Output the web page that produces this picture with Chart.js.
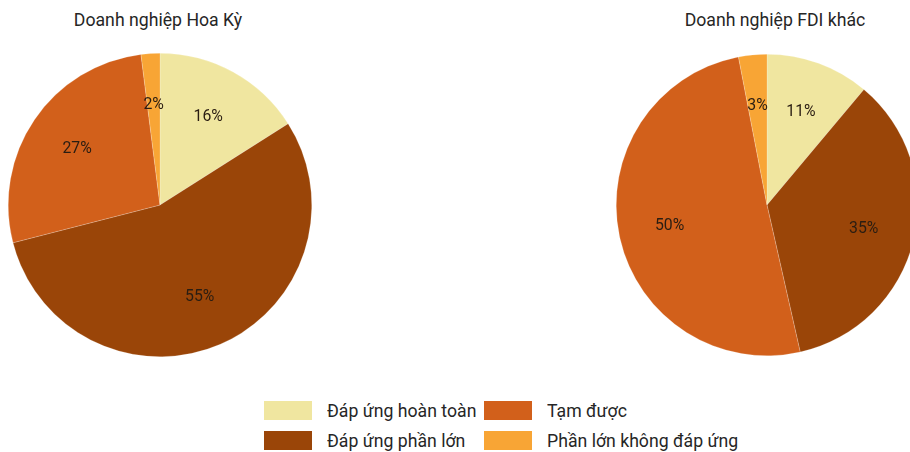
<!DOCTYPE html>
<html>
<head>
<meta charset="utf-8">
<script src="https://cdn.jsdelivr.net/npm/chart.js@4"></script>
<style>
  html, body { margin: 0; padding: 0; background: #fff; }
  body { width: 910px; height: 452px; position: relative; overflow: hidden;
         font-family: Roboto, sans-serif; color: #262626; }
  .title { position: absolute; top: 8px; font-size: 19px; white-space: nowrap;
           transform: translateX(-50%) scaleX(0.93); }
  .pie { position: absolute; }
  #legend { position: absolute; left: 264px; top: 399px; display: grid;
            grid-template-columns: 220px 260px; row-gap: 8px; font-size: 19px; }
  #legend .item { display: flex; align-items: center; height: 22px; white-space: nowrap; }
  #legend .box { width: 48px; height: 19px; margin-right: 15px; flex: none; }
  #legend .text { display: inline-block; transform: scaleX(0.93); transform-origin: left center; }
</style>
</head>
<body>
<div class="title" style="left:158px">Doanh nghiệp Hoa Kỳ</div>
<div class="title" style="left:775px">Doanh nghiệp FDI khác</div>
<div class="pie" style="left:8px;top:53px;width:304px;height:304px"><canvas id="chart-us"></canvas></div>
<div class="pie" style="left:616px;top:54px;width:302px;height:302px"><canvas id="chart-fdi"></canvas></div>
<div id="legend"></div>
<script>
const categories = ['Đáp ứng hoàn toàn', 'Đáp ứng phần lớn', 'Tạm được', 'Phần lớn không đáp ứng'];
const usValues = [16, 55, 27, 2];
const fdiValues = [11, 35, 50, 3];
const colors = ['#f0e6a0', '#9a4508', '#d2601b', '#f8a535'];

// percentage text inside each slice (slightly narrowed)
const sliceLabels = {
  id: 'sliceLabels',
  afterDatasetsDraw(chart) {
    const ctx = chart.ctx;
    const data = chart.data.datasets[0].data;
    chart.getDatasetMeta(0).data.forEach((arc, i) => {
      const p = arc.getProps(['x', 'y', 'startAngle', 'endAngle', 'outerRadius']);
      const mid = (p.startAngle + p.endAngle) / 2;
      const r = p.outerRadius * 0.66;
      ctx.save();
      ctx.translate(p.x + Math.cos(mid) * r, p.y + Math.sin(mid) * r);
      ctx.scale(0.93, 1);
      ctx.font = '17px Roboto, sans-serif';
      ctx.fillStyle = '#2a1d12';
      ctx.textAlign = 'center';
      ctx.textBaseline = 'middle';
      ctx.fillText(data[i] + '%', 0, 0);
      ctx.restore();
    });
  }
};

function makePie(id, values) {
  new Chart(document.getElementById(id), {
    type: 'pie',
    data: {
      labels: categories,
      datasets: [{
        data: values,
        backgroundColor: colors,
        borderColor: 'rgba(255,255,255,0.4)',
        borderWidth: 0.5
      }]
    },
    options: {
      responsive: true,
      maintainAspectRatio: false,
      animation: false,
      layout: { padding: 0 },
      plugins: {
        legend: { display: false },
        tooltip: { enabled: false }
      }
    },
    plugins: [sliceLabels]
  });
}

makePie('chart-us', usValues);
makePie('chart-fdi', fdiValues);

// legend, two per row
const legend = document.getElementById('legend');
[0, 2, 1, 3].forEach(i => {
  const item = document.createElement('div');
  item.className = 'item';
  item.innerHTML = '<span class="box" style="background:' + colors[i] + '"></span>' +
    '<span class="text">' + categories[i] + '</span>';
  legend.appendChild(item);
});
</script>
</body>
</html>
